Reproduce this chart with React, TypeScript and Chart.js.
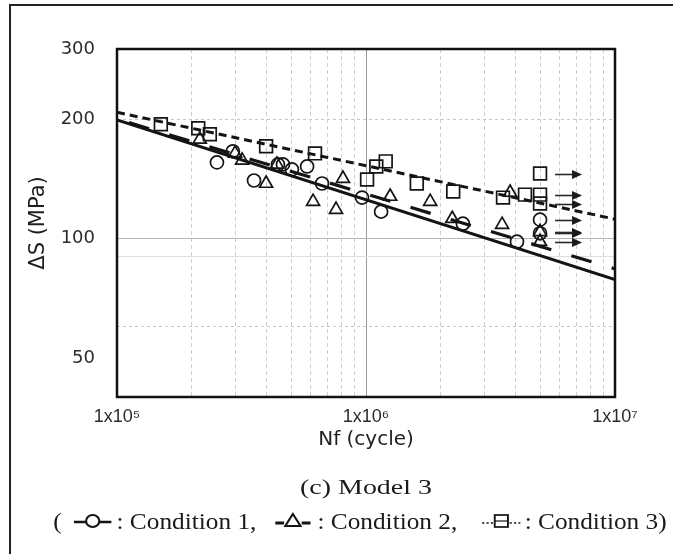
import React, { useEffect, useRef } from 'react';
import { Chart, registerables } from 'chart.js';

Chart.register(...registerables);

// Condition 1 (open circles): fatigue life vs stress range
const cond1Cycles = [2.52e5, 2.92e5, 3.55e5, 4.43e5, 4.64e5, 5.04e5, 5.8e5, 6.66e5, 9.64e5, 1.15e6, 2.45e6, 4.04e6];
const cond1Stress = [155.6, 165.9, 140.1, 153.8, 153.8, 149.4, 152, 137.7, 126.9, 117, 109.1, 98.3];
const cond1RunoutCycles = [5e6, 5e6];
const cond1RunoutStress = [111.7, 103.2];

// Condition 2 (open triangles)
const cond2Cycles = [2.15e5, 2.98e5, 3.18e5, 3.97e5, 4.39e5, 6.13e5, 7.58e5, 8.08e5, 1.25e6, 1.81e6, 2.22e6, 3.52e6, 3.79e6];
const cond2Stress = [177.8, 163.9, 157.4, 137.7, 153.8, 124, 118.4, 141.7, 127.7, 124, 112.3, 108.5, 130.7];
const cond2RunoutCycles = [5e6, 5e6];
const cond2RunoutStress = [104.1, 98.3];

// Condition 3 (open squares)
const cond3Cycles = [1.5e5, 2.12e5, 2.36e5, 3.97e5, 6.24e5, 1.01e6, 1.1e6, 1.2e6, 1.6e6, 2.24e6, 3.55e6, 4.35e6];
const cond3Stress = [194.1, 189.6, 183.1, 170.8, 163.9, 140.9, 152, 156.5, 137.7, 131.4, 126.9, 129.1];
const cond3RunoutCycles = [5e6, 5e6, 5e6];
const cond3RunoutStress = [145.9, 129.1, 122.6];

// Fitted S-N curves (end points at the axis limits)
const fitCycles = [1e5, 1e7];
const fit1Stress = [199, 79];
const fit2Stress = [200, 84];
const fit3Stress = [208, 112];

// Axis ticks and grid
const xMajorTicks = [1e5, 1e6, 1e7];
const xTickLabels = ['1x10\u2075', '1x10\u2076', '1x10\u2077'];
const xGridValues = [
  1e5, 2e5, 3e5, 4e5, 5e5, 6e5, 7e5, 8e5, 9e5,
  1e6, 2e6, 3e6, 4e6, 5e6, 6e6, 7e6, 8e6, 9e6, 1e7,
];
const yTickValues = [50, 100, 200, 300];
const yGridValues = [50, 60, 90, 100, 200, 300];

const INK = '#141414';

const pts = (xs: number[], ys: number[]) => xs.map((x, i) => ({ x, y: ys[i] }));

const markerSet = (label: string, xs: number[], ys: number[], style: string, radius: number, runout = false) => ({
  type: 'scatter' as const,
  label,
  data: pts(xs, ys),
  showLine: false,
  pointStyle: style,
  pointRadius: radius,
  pointBorderColor: INK,
  pointBackgroundColor: 'rgba(0,0,0,0)',
  pointBorderWidth: 1.7,
  runout,
});

const fitLine = (label: string, ys: number[], dash: number[], width: number, dashOffset = 0) => ({
  type: 'line' as const,
  label,
  data: pts(fitCycles, ys),
  showLine: true,
  borderColor: INK,
  borderWidth: width,
  borderDash: dash,
  borderDashOffset: dashOffset,
  pointRadius: 0,
  fill: false,
});

// Frame around the plot area plus run-out arrows beside unbroken specimens
const framePlugin = {
  id: 'plotFrame',
  afterDatasetsDraw(chart: any) {
    const { ctx, chartArea: a } = chart;
    ctx.save();
    chart.data.datasets.forEach((ds: any, i: number) => {
      if (!ds.runout) return;
      chart.getDatasetMeta(i).data.forEach((p: any) => {
        const y = Math.round(p.y) + 0.5;
        const x0 = p.x + 15;
        const x1 = p.x + 42;
        ctx.strokeStyle = '#2a2a2a';
        ctx.fillStyle = '#1a1a1a';
        ctx.lineWidth = 1.6;
        ctx.beginPath();
        ctx.moveTo(x0, y);
        ctx.lineTo(x1 - 6, y);
        ctx.stroke();
        ctx.beginPath();
        ctx.moveTo(x1, y);
        ctx.lineTo(x1 - 10, y - 4.5);
        ctx.lineTo(x1 - 10, y + 4.5);
        ctx.closePath();
        ctx.fill();
      });
    });
    ctx.strokeStyle = '#111';
    ctx.lineWidth = 2.5;
    ctx.strokeRect(a.left, a.top, a.right - a.left, a.bottom - a.top);
    ctx.restore();
  },
};

const Sym = ({ kind }: { kind: 'circle' | 'triangle' | 'square' }) => (
  <svg width={36} height={20} style={{ verticalAlign: '-2px', margin: '0 4px' }}>
    {kind === 'circle' && (
      <g stroke={INK} fill="none">
        <line x1={1} y1={11} x2={35} y2={11} strokeWidth={2.4} />
        <circle cx={18} cy={10} r={6} strokeWidth={1.9} fill="#fff" />
      </g>
    )}
    {kind === 'triangle' && (
      <g stroke={INK} fill="none">
        <line x1={2} y1={12} x2={10} y2={12} strokeWidth={2.8} />
        <polygon points="18,3 25,15 11,15" strokeWidth={1.9} />
        <line x1={26} y1={12} x2={34} y2={12} strokeWidth={2.8} />
      </g>
    )}
    {kind === 'square' && (
      <g stroke={INK} fill="none">
        <line x1={1} y1={12} x2={11} y2={12} strokeWidth={1.7} strokeDasharray="2 2" />
        <rect x={12.5} y={4} width={12} height={12} strokeWidth={1.7} />
        <line x1={12.5} y1={10} x2={24.5} y2={10} strokeWidth={1.2} />
        <line x1={26} y1={12} x2={36} y2={12} strokeWidth={1.7} strokeDasharray="2 2" />
      </g>
    )}
  </svg>
);

export default function App() {
  const canvasRef = useRef<HTMLCanvasElement>(null);

  useEffect(() => {
    const canvas = canvasRef.current;
    if (!canvas) return;

    const chart = new Chart(canvas, {
      type: 'scatter',
      data: {
        datasets: [
          fitLine('Fit 3', fit3Stress, [8, 5], 3),
          fitLine('Fit 2', fit2Stress, [21, 21], 3.2, 29.5),
          fitLine('Fit 1', fit1Stress, [], 3),
          markerSet('Condition 1', cond1Cycles, cond1Stress, 'circle', 6.5),
          markerSet('Condition 1 run-out', cond1RunoutCycles, cond1RunoutStress, 'circle', 6.5, true),
          markerSet('Condition 2', cond2Cycles, cond2Stress, 'triangle', 7.5),
          markerSet('Condition 2 run-out', cond2RunoutCycles, cond2RunoutStress, 'triangle', 7.5, true),
          markerSet('Condition 3', cond3Cycles, cond3Stress, 'rect', 9),
          markerSet('Condition 3 run-out', cond3RunoutCycles, cond3RunoutStress, 'rect', 9, true),
        ] as any,
      },
      options: {
        responsive: false,
        devicePixelRatio: 1,
        animation: false,
        layout: { padding: { left: 10, top: 49, right: 58, bottom: 97 } },
        plugins: {
          legend: { display: false },
          tooltip: { enabled: false },
        },
        scales: {
          x: {
            type: 'logarithmic',
            position: 'bottom',
            min: 1e5,
            max: 1e7,
            afterBuildTicks: (scale: any) => {
              scale.ticks = xGridValues.map((value) => ({ value }));
            },
            afterFit: (scale: any) => {
              scale.height = 60;
            },
            ticks: {
              autoSkip: false,
              maxRotation: 0,
              padding: 9,
              color: '#2b2b2b',
              font: { family: "'Liberation Sans', Arial, sans-serif", size: 18 },
              callback: (value: any) => {
                const i = xMajorTicks.indexOf(Number(value));
                return i >= 0 ? xTickLabels[i] : '';
              },
            },
            grid: {
              drawTicks: false,
              lineWidth: 1,
              color: (ctx: any) => {
                const v = ctx.tick ? ctx.tick.value : 0;
                if (v === 1e5 || v === 1e7) return 'rgba(0,0,0,0)';
                if (v === 1e6) return '#9c9c9c';
                return '#cdcdcd';
              },
            },
            border: {
              display: false,
              dash: (ctx: any) => (ctx.tick && ctx.tick.value === 1e6 ? [] : [4, 3]),
            },
            title: {
              display: true,
              text: 'Nf (cycle)',
              color: '#1e1e1e',
              font: { family: "'DejaVu Sans', sans-serif", size: 20 },
              padding: { top: 0, bottom: 5 },
            },
          },
          y: {
            type: 'logarithmic',
            position: 'left',
            min: 40,
            max: 300,
            afterBuildTicks: (scale: any) => {
              scale.ticks = yGridValues.map((value) => ({ value }));
            },
            afterFit: (scale: any) => {
              scale.width = 107;
            },
            ticks: {
              autoSkip: false,
              padding: 22,
              color: '#2b2b2b',
              font: { family: "'DejaVu Sans', sans-serif", size: 18 },
              callback: (value: any) => (yTickValues.includes(Number(value)) ? String(value) : ''),
            },
            grid: {
              drawTicks: false,
              lineWidth: 1,
              color: (ctx: any) => {
                const v = ctx.tick ? ctx.tick.value : 0;
                if (v === 100) return '#b4b4b4';
                if (v === 200) return '#c6c6c6';
                if (v === 60) return '#cccccc';
                if (v === 90) return '#dedede';
                return 'rgba(0,0,0,0)';
              },
            },
            border: {
              display: false,
              dash: (ctx: any) => (ctx.tick && (ctx.tick.value === 200 || ctx.tick.value === 60) ? [3, 3] : []),
            },
            title: {
              display: true,
              text: '\u0394S (MPa)',
              color: '#1e1e1e',
              font: { family: "'DejaVu Sans', sans-serif", size: 21 },
              padding: { top: 16, bottom: 0 },
            },
          },
        },
      } as any,
      plugins: [framePlugin],
    });

    return () => chart.destroy();
  }, []);

  const serif = "'Liberation Serif', 'Times New Roman', serif";

  return (
    <div style={{ position: 'fixed', left: 0, top: 0, width: 673, height: 554, background: '#fff', overflow: 'hidden' }}>
      <canvas
        ref={canvasRef}
        width={673}
        height={554}
        style={{ position: 'absolute', left: 0, top: 0, width: 673, height: 554 }}
      />
      <div
        style={{
          position: 'absolute',
          left: 9,
          top: 4,
          width: 700,
          height: 600,
          borderLeft: '2px solid #222',
          borderTop: '2px solid #222',
          pointerEvents: 'none',
        }}
      />
      <div
        style={{
          position: 'absolute',
          left: 0,
          top: 474,
          width: 732,
          textAlign: 'center',
          fontFamily: serif,
          fontSize: 22,
          lineHeight: '26px',
          color: '#1a1a1a',
          transform: 'scaleX(1.27)',
          transformOrigin: '366px 0',
        }}
      >
        (c) Model 3
      </div>
      <div
        style={{
          position: 'absolute',
          left: 0,
          top: 508,
          width: 720,
          textAlign: 'center',
          fontFamily: serif,
          fontSize: 23,
          lineHeight: '28px',
          color: '#1a1a1a',
          whiteSpace: 'pre',
          transform: 'scaleX(1.1)',
          transformOrigin: '360px 0',
        }}
      >
        {'( '}
        <Sym kind="circle" />
        {': Condition 1,  '}
        <Sym kind="triangle" />
        {': Condition 2,   '}
        <Sym kind="square" />
        {': Condition 3)'}
      </div>
    </div>
  );
}
